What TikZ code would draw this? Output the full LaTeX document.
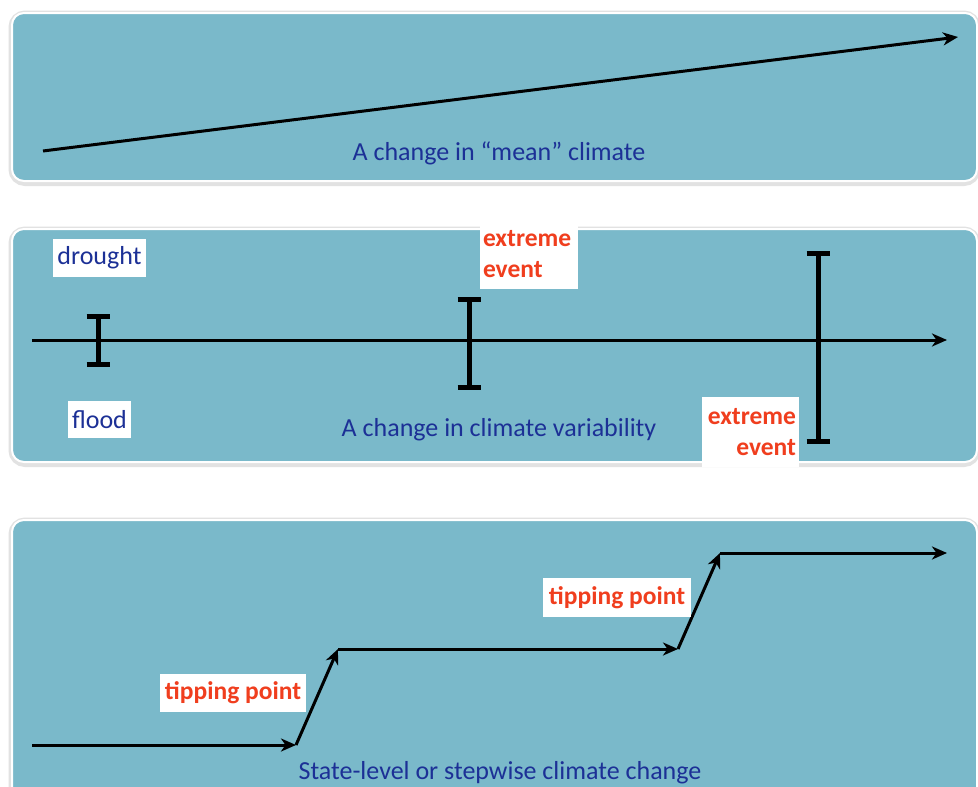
\documentclass[tikz,border=0pt]{standalone}
\usepackage{fontspec}
\setmainfont{Carlito}
\usetikzlibrary{arrows.meta}
\definecolor{panelc}{RGB}{122,185,202}
\definecolor{bluetxt}{RGB}{28,48,150}
\definecolor{redtxt}{RGB}{240,62,30}
\tikzset{
  panelshadow/.style={draw=black!25,line width=7pt,rounded corners=13pt,opacity=0.45},
  panel/.style={fill=panelc,draw=white,line width=2pt,rounded corners=12pt},
  caption/.style={text=bluetxt,font=\fontsize{26}{31}\selectfont,inner sep=0pt},
  bluebox/.style={fill=white,text=bluetxt,font=\fontsize{26}{31}\selectfont,inner sep=0pt},
  redbox/.style={fill=white,text=redtxt,font=\bfseries\fontsize{25.5}{31}\selectfont,inner sep=0pt},
  arr/.style={line width=3pt,-{Stealth[length=15pt,width=13pt,inset=4.5pt]}},
  ebar/.style={line width=5pt},
}
\begin{document}
\begin{tikzpicture}[x=1pt,y=-1pt]
\clip (0,0) rectangle (978,787);
\fill[white] (0,0) rectangle (978,787);
% panels
\foreach \ya/\yb in {13/181,229/462,520/800}{
  \draw[panelshadow] (12,\ya+1) rectangle (977,\yb+1.5);
}
\draw[panel] (12,13) rectangle (977,181);
\draw[panel] (12,229) rectangle (977,462);
\draw[panel] (12,520) rectangle (977,800);

% panel 1
\coordinate (m0) at (43,151);
\coordinate (m1) at (958,37);
\draw[arr] (m0) -- (m1);
\node[caption] (cap1) at (499,153) {A change in “mean” climate};

% panel 2
\coordinate (a0) at (32,340);
\coordinate (a1) at (947,340);
\draw[arr] (a0) -- (a1);
\coordinate (b1t) at (98,316); \coordinate (b1b) at (98,364);
\coordinate (b2t) at (469,299); \coordinate (b2b) at (469,387);
\coordinate (b3t) at (818,253); \coordinate (b3b) at (818,441);
\foreach \t/\b in {b1t/b1b,b2t/b2b,b3t/b3b}{
  \draw[ebar] (\t) -- (\b);
  \draw[ebar] ([xshift=-11.5pt]\t) -- ([xshift=11.5pt]\t);
  \draw[ebar] ([xshift=-11.5pt]\b) -- ([xshift=11.5pt]\b);
}
\node[bluebox,minimum width=93pt,minimum height=38pt] (drought) at (99.5,258) {drought};
\node[bluebox,minimum width=63pt,minimum height=37pt] (flood) at (99.5,419.5) {flood};
\node[redbox,minimum width=98pt,minimum height=69pt,text width=92pt,align=left] (ext1) at (529,254.5) {extreme\\event};
\node[redbox,minimum width=97pt,minimum height=70pt,text width=91pt,align=right] (ext2) at (750.5,432) {extreme\\event};
\node[caption] (cap2) at (499,430) {A change in climate variability};

% panel 3
\coordinate (s0) at (32,745);
\coordinate (s1) at (296,745);
\coordinate (s2) at (338,649);
\coordinate (s3) at (678,649);
\coordinate (s4) at (720,553);
\coordinate (s5) at (947,553);
\draw[arr] (s0) -- (s1);
\draw[arr] (s1) -- (s2);
\draw[arr] (s2) -- (s3);
\draw[arr] (s3) -- (s4);
\draw[arr] (s4) -- (s5);
\node[redbox,minimum width=146pt,minimum height=38pt] (tip1) at (233,693) {tipping point};
\node[redbox,minimum width=148pt,minimum height=39pt] (tip2) at (617,597.5) {tipping point};
\node[caption] (cap3) at (500,773) {State-level or stepwise climate change};
\end{tikzpicture}
\end{document}
